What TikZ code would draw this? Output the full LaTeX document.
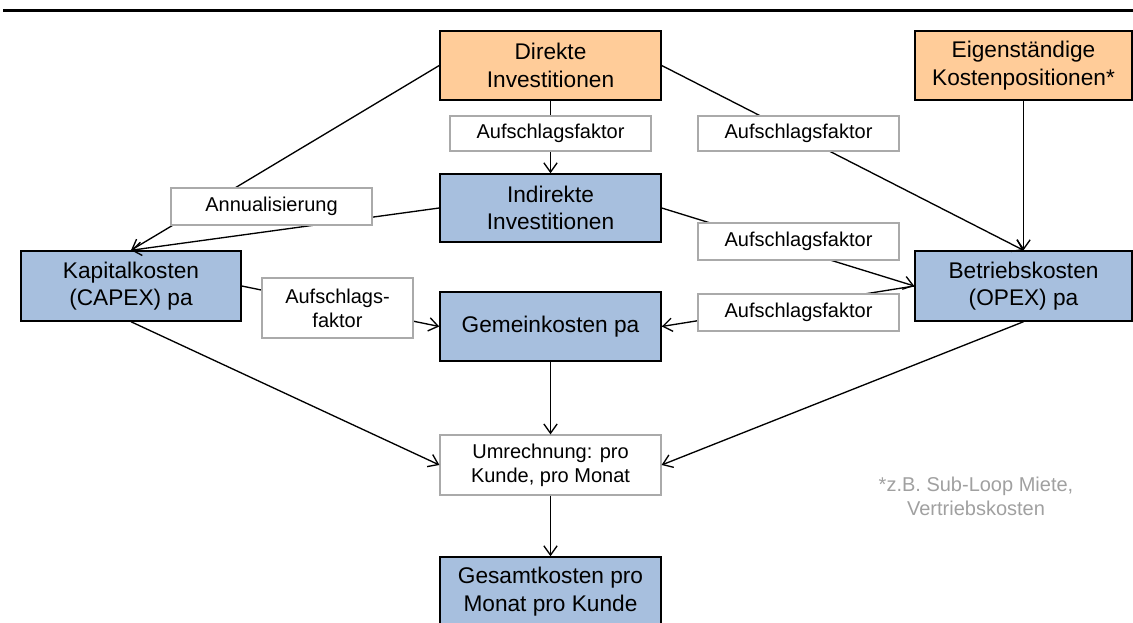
\documentclass[tikz,border=0pt]{standalone}
\usepackage{fontspec}
\setmainfont{Liberation Sans}
\usetikzlibrary{arrows.meta}
\definecolor{peach}{RGB}{255,204,153}
\definecolor{lblue}{RGB}{167,191,222}
\definecolor{lblgray}{RGB}{170,170,170}
\definecolor{fngray}{RGB}{160,160,160}
\newcommand\mainfs{\fontsize{17}{20.5}\selectfont}
\newcommand\lblfs{\fontsize{15}{18.2}\selectfont}
\tikzset{
  box/.style={draw=black, line width=1.1pt, align=center, font=\mainfs, inner sep=2pt,
    minimum width=165.75pt, minimum height=51.75pt},
  orangebox/.style={box, fill=peach},
  bluebox/.style={box, fill=lblue},
  lbl/.style={draw=lblgray, line width=0.9pt, fill=white, align=center, font=\lblfs, inner sep=2pt,
    minimum width=150.75pt, minimum height=26.25pt},
  conn/.style={line width=1pt, -{Straight Barb[length=7pt,width=10pt,line width=1pt]}},
  plain/.style={line width=1pt}
}
\begin{document}
\begin{tikzpicture}[x=0.75pt,y=-0.75pt]
\useasboundingbox (0,0) rectangle (1133,623);
\draw[line width=2.3pt] (3,10.5) -- (1133,10.5);

% main boxes
\node[orangebox] (dir) at (550.5,65.5) {Direkte\\Investitionen};
\node[orangebox, minimum width=162.75pt] (eig) at (1023.5,65.5) {Eigenständige\\Kostenpositionen*};
\node[bluebox, minimum height=51pt] (ind) at (550.5,208) {Indirekte\\Investitionen};
\node[bluebox, minimum width=165pt, minimum height=52.5pt] (kap) at (131,286) {Kapitalkosten\\(CAPEX) pa};
\node[bluebox, minimum width=162.75pt, minimum height=52.5pt] (bet) at (1023.5,286) {Betriebskosten\\(OPEX) pa};
\node[bluebox] (gem) at (550.5,326.5) {Gemeinkosten pa};
\node[lbl, minimum width=165.75pt, minimum height=45pt] (umr) at (550.5,465) {Umrechnung: pro\\Kunde, pro Monat};
\node[bluebox] (ges) at (550.5,591.5) {Gesamtkosten pro\\Monat pro Kunde};

% connectors
\draw[conn] (dir.south) -- (ind.north);
\draw[conn] (dir.west) -- (kap.north);
\draw[conn] (ind.west) -- (kap.north);
\draw[conn] (dir.east) -- (bet.north);
\draw[conn] (eig.south) -- (bet.north);
\draw[conn] (ind.east) -- (bet.west);
\draw[conn] (bet.west) -- (gem.east);
\draw[conn] (kap.east) -- (gem.west);
\draw[conn] (kap.south) -- (umr.west);
\draw[conn] (gem.south) -- (umr.north);
\draw[conn] (bet.south) -- (umr.east);
\draw[conn] (umr.south) -- (ges.north);

% labels on connectors
\node[lbl] (l1) at (550.5,133.5) {Aufschlagsfaktor};
\node[lbl] (l2) at (798.5,133.5) {Aufschlagsfaktor};
\node[lbl, minimum height=27.75pt] (l3) at (798.5,241.5) {Aufschlagsfaktor};
\node[lbl, minimum height=27.75pt] (l4) at (798.5,312.5) {Aufschlagsfaktor};
\node[lbl, minimum height=27.75pt] (ann) at (271.5,206.5) {Annualisierung};
\node[lbl, minimum width=113.25pt, minimum height=45pt] (afk) at (337.5,308) {Aufschlags-\\faktor};

% footnote
\node[font=\lblfs, text=fngray, align=center] (fn) at (976,496) {*z.B. Sub-Loop Miete,\\Vertriebskosten};
\end{tikzpicture}
\end{document}
